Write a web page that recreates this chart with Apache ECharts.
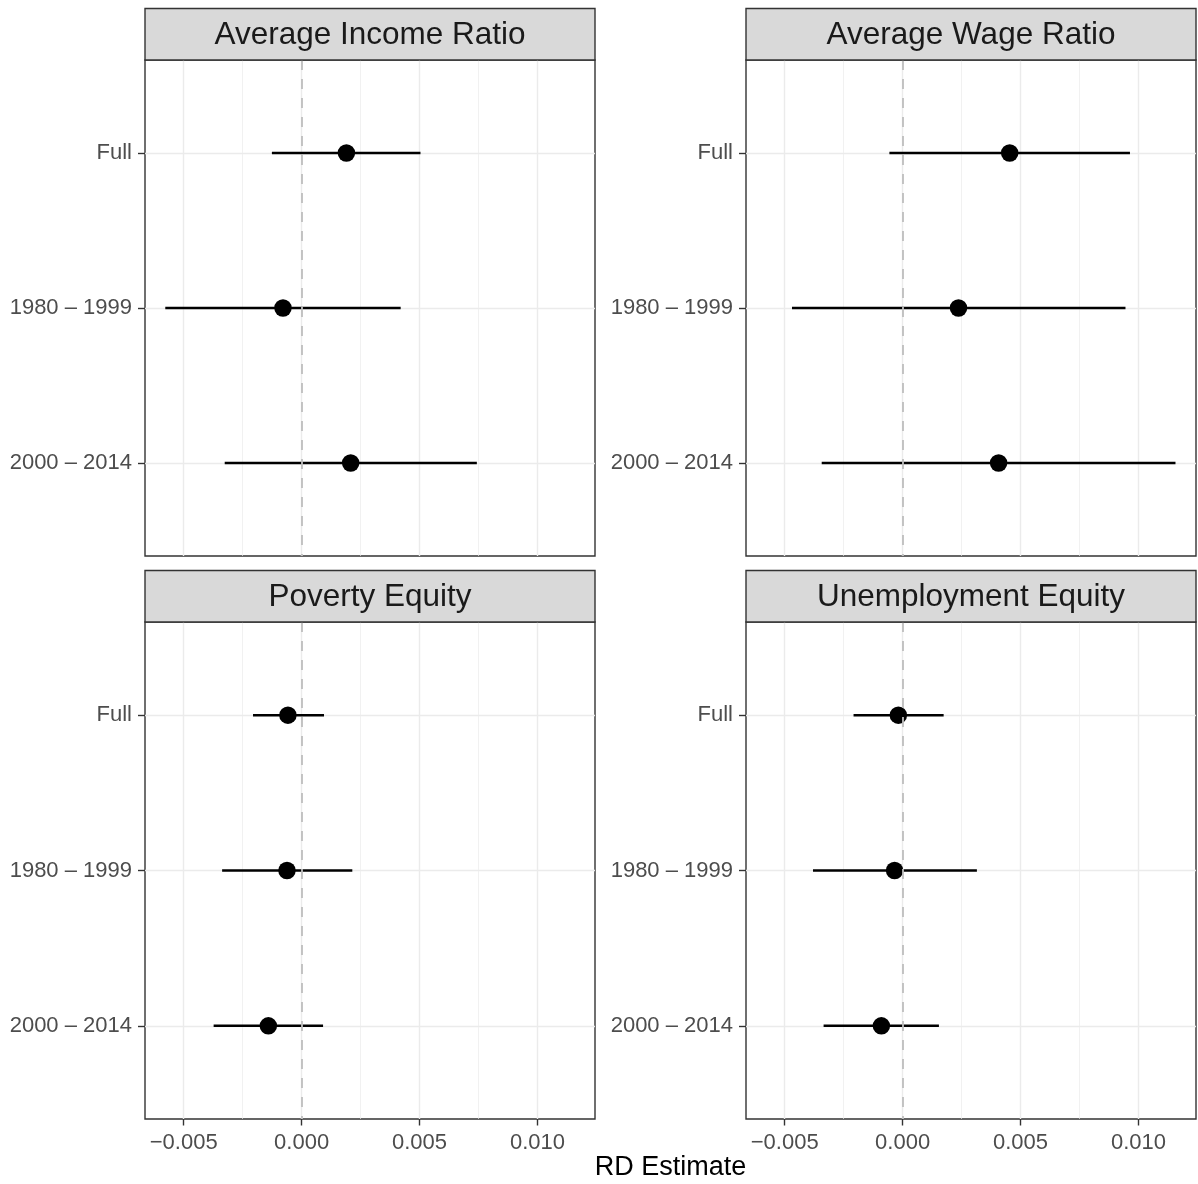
<!DOCTYPE html>
<html><head><meta charset="utf-8">
<script src="https://cdn.jsdelivr.net/npm/echarts@6/dist/echarts.min.js"></script>
<style>html,body{margin:0;padding:0;background:#fff}#c{width:1198px;height:1184px}</style>
</head><body><div id="c"></div>
<script>
// ---- data ----
const categories = ['Full', '1980 – 1999', '2000 – 2014'];
const panelTitles = ['Average Income Ratio', 'Average Wage Ratio', 'Poverty Equity', 'Unemployment Equity'];
const incomeEst = [0.0019, -0.00079, 0.00208];
const incomeLo  = [-0.00126, -0.00578, -0.00326];
const incomeHi  = [0.00504, 0.00420, 0.00743];
const wageEst = [0.00454, 0.00237, 0.00407];
const wageLo  = [-0.00056, -0.00469, -0.00343];
const wageHi  = [0.00964, 0.00945, 0.01157];
const povertyEst = [-0.00058, -0.00062, -0.00141];
const povertyLo  = [-0.00206, -0.00337, -0.00373];
const povertyHi  = [0.00095, 0.00215, 0.00091];
const unempEst = [-0.00018, -0.00034, -0.0009];
const unempLo  = [-0.00208, -0.0038, -0.00335];
const unempHi  = [0.00174, 0.00315, 0.00154];
const xMajorTicks = [-0.005, 0, 0.005, 0.01];
const xMinorTicks = [-0.0025, 0.0025, 0.0075];
const xLimits = [-0.00664, 0.01244];
const yLimits = [-0.6, 2.6];
const xTitle = 'RD Estimate';

const panelData = [
  {est: incomeEst, lo: incomeLo, hi: incomeHi},
  {est: wageEst, lo: wageLo, hi: wageHi},
  {est: povertyEst, lo: povertyLo, hi: povertyHi},
  {est: unempEst, lo: unempLo, hi: unempHi}
];

// ---- layout ----
const FONT = '"Liberation Sans", Arial, Helvetica, sans-serif';
const grids = [
  {left: 145, top: 60, width: 450, height: 496},
  {left: 746, top: 60, width: 450, height: 496},
  {left: 145, top: 622, width: 450, height: 497},
  {left: 746, top: 622, width: 450, height: 497}
];
const strips = [
  {x: 145, y: 8.5, w: 450, h: 51.5},
  {x: 746, y: 8.5, w: 450, h: 51.5},
  {x: 145, y: 570.5, w: 450, h: 51.5},
  {x: 746, y: 570.5, w: 450, h: 51.5}
];

const option = {
  backgroundColor: '#fff',
  animation: false,
  grid: grids.map(g => Object.assign({}, g, {
    show: true, borderColor: '#333333', borderWidth: 1.4, backgroundColor: '#fff',
    containLabel: false, outerBoundsMode: 'none'
  })),
  xAxis: [],
  yAxis: [],
  series: [],
  graphic: []
};

grids.forEach((g, i) => {
  const bottom = i >= 2;
  option.xAxis.push({
    type: 'value', gridIndex: i, min: xLimits[0], max: xLimits[1], position: 'bottom',
    axisLine: {show: false, onZero: false},
    axisTick: {show: bottom, length: 6.5, lineStyle: {color: '#333333', width: 1.4}, customValues: xMajorTicks},
    axisLabel: {show: bottom, customValues: xMajorTicks, margin: 12.5, color: '#4D4D4D', fontSize: 22, fontFamily: FONT,
      formatter: v => v.toFixed(3).replace('-', '\u2212')},
    splitLine: {show: true, lineStyle: {color: '#EBEBEB', width: 1.4}},
    z: 1
  });
  option.xAxis.push({
    type: 'value', gridIndex: i, min: xLimits[0], max: xLimits[1], position: 'bottom',
    axisLine: {show: false, onZero: false},
    axisTick: {show: false, customValues: xMinorTicks},
    axisLabel: {show: false, customValues: xMinorTicks},
    splitLine: {show: true, lineStyle: {color: '#EBEBEB', width: 0.7}},
    z: 0
  });
  option.yAxis.push({
    type: 'value', gridIndex: i, min: yLimits[0], max: yLimits[1], inverse: true, position: 'left',
    axisLine: {show: false, onZero: false},
    axisTick: {show: true, length: 7, lineStyle: {color: '#333333', width: 1.4}, customValues: [0, 1, 2]},
    axisLabel: {show: true, customValues: [0, 1, 2], margin: 13, color: '#4D4D4D', fontSize: 22, fontFamily: FONT,
      padding: [3, 0, 0, 0],
      formatter: v => categories[Math.round(v)]},
    splitLine: {show: true, lineStyle: {color: '#EBEBEB', width: 1.4}}
  });

  const d = panelData[i];
  option.series.push({
    type: 'custom', xAxisIndex: 2 * i, yAxisIndex: i, z: 3,
    data: categories.map((c, k) => [k, d.lo[k], d.hi[k]]),
    encode: {x: [1, 2], y: 0},
    renderItem: (params, api) => {
      const y = api.value(0);
      const p1 = api.coord([api.value(1), y]);
      const p2 = api.coord([api.value(2), y]);
      return {type: 'line', shape: {x1: p1[0], y1: p1[1], x2: p2[0], y2: p2[1]},
        style: {stroke: '#000', lineWidth: 2.4, lineCap: 'butt'}};
    },
    silent: true
  });
  option.series.push({
    type: 'scatter', xAxisIndex: 2 * i, yAxisIndex: i, z: 4,
    symbol: 'circle', symbolSize: 17.5, itemStyle: {color: '#000', opacity: 1},
    data: categories.map((c, k) => [d.est[k], k]),
    silent: true,
    markLine: {
      silent: true, symbol: 'none', z: 6, animation: false,
      label: {show: false},
      lineStyle: {type: [10, 9], color: '#BEBEBE', width: 1.8, opacity: 1},
      emphasis: {disabled: true},
      data: [{xAxis: 0}]
    }
  });

  const s = strips[i];
  option.graphic.push({
    type: 'rect', shape: {x: s.x, y: s.y, width: s.w, height: s.h},
    style: {fill: '#D9D9D9', stroke: '#333333', lineWidth: 1.4}, z: 10, silent: true
  });
  option.graphic.push({
    type: 'text', x: s.x + s.w / 2, y: s.y + s.h / 2 + 1, z: 11, silent: true,
    style: {text: panelTitles[i], fill: '#1A1A1A', fontSize: 31.5, fontFamily: FONT,
      textAlign: 'center', textVerticalAlign: 'middle'}
  });
});

option.graphic.push({
  type: 'text', x: 670.5, y: 1168, z: 11, silent: true,
  style: {text: xTitle, fill: '#000', fontSize: 27, fontFamily: FONT, textAlign: 'center', textVerticalAlign: 'middle'}
});

const chart = echarts.init(document.getElementById('c'), null, {renderer: 'canvas'});
chart.setOption(option);
</script>
</body></html>
